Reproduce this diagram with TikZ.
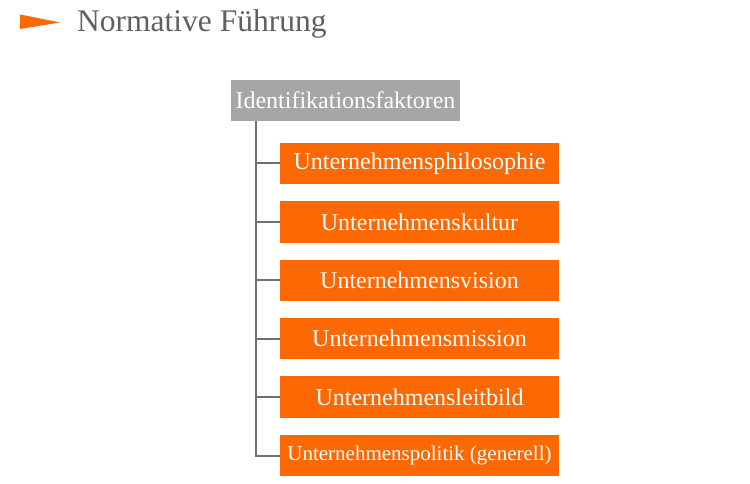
\documentclass[tikz,border=0pt]{standalone}
\usepackage{fontspec}
\setmainfont{Liberation Serif}
\usepackage{xcolor}
\usetikzlibrary{positioning}
\definecolor{accent}{RGB}{252,104,4}
\definecolor{headgrey}{RGB}{166,166,166}
\definecolor{titlegrey}{RGB}{96,96,96}
\definecolor{linegrey}{RGB}{112,112,112}

\begin{document}
\begin{tikzpicture}[
    x=1pt, y=1pt,
    node distance=16.5pt,
    headbox/.style={rectangle, fill=headgrey, text=white, minimum width=229pt, minimum height=41pt, inner sep=0pt, font=\fontsize{24}{26}\selectfont},
    factor/.style={rectangle, fill=accent, text=white, minimum width=279pt, minimum height=41.5pt, inner sep=0pt, font=\fontsize{24}{26}\selectfont},
    branch/.style={line width=2pt, linegrey}
]
    \useasboundingbox (0,0) rectangle (750,-484);

    % Title
    \fill[accent] (20,-14.5) -- (60,-22.5) -- (20,-29) -- cycle;
    \node[anchor=base west, inner sep=0pt, text=titlegrey, font=\fontsize{31.5}{34}\selectfont] (title) at (77,-32) {Normative Führung};

    % Header
    \node[headbox] (head) at (345.5,-100.5) {Identifikationsfaktoren};

    % Factors
    \node[factor] (phil) at (419.5,-163.5) {Unternehmensphilosophie};
    \node[factor, below=of phil] (kultur) {Unternehmenskultur};
    \node[factor, below=of kultur] (vision) {Unternehmensvision};
    \node[factor, below=of vision] (mission) {Unternehmensmission};
    \node[factor, below=of mission] (leitbild) {Unternehmensleitbild};
    \node[factor, below=of leitbild, font=\fontsize{21}{23}\selectfont] (politik) {Unternehmenspolitik (generell)};

    % Tree lines
    \coordinate (trunk) at ([xshift=25pt]head.south west);
    \foreach \f in {phil,kultur,vision,mission,leitbild,politik}
        \draw[branch] (trunk) |- (\f.west);

\end{tikzpicture}
\end{document}
